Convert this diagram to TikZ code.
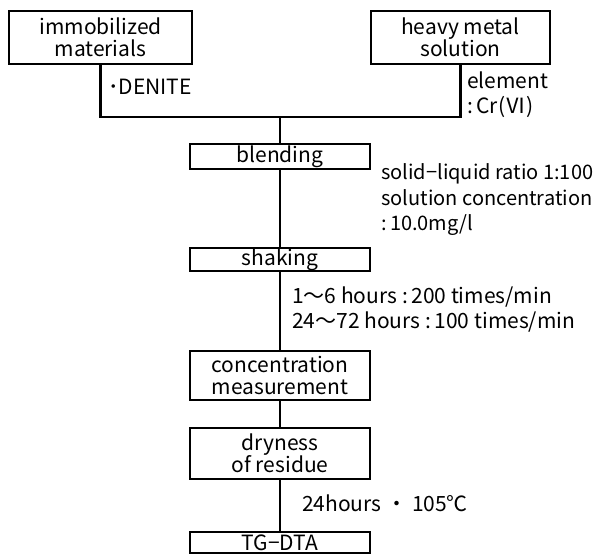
\documentclass[tikz,border=0pt]{standalone}
\usepackage{fontspec}
\setmainfont{Noto Sans CJK JP}

\begin{document}
\begin{tikzpicture}[x=1pt,y=-1pt,
  stepbox/.style={draw,line width=2.8pt,inner sep=0pt,align=center,
    minimum width=180pt,font=\fontsize{21}{22}\selectfont},
  note/.style={anchor=west,inner sep=0pt,align=left,
    font=\fontsize{21}{25}\selectfont},
  link/.style={line width=2.5pt}]

  \useasboundingbox (0,0) rectangle (603,556);

  % starting materials
  \node[stepbox,minimum width=183pt,minimum height=53pt] (immo) at (100.5,37.5) {immobilized\\materials};
  \node[stepbox,minimum width=179pt,minimum height=53pt] (heavy) at (460.5,37.5) {heavy metal\\solution};

  \node[note] (denite) at (108,87) {･DENITE};
  \node[note] (elem) at (467,95) {element\\:\,Cr(Ⅵ)};

  % joining bracket
  \coordinate (jl) at (100.5,117);
  \coordinate (jr) at (460.5,117);
  \coordinate (jc) at (280,117);
  \draw[link] (immo) -- (jl) -- (jr) -- (heavy);

  % steps
  \node[stepbox,minimum height=25pt] (blend) at (280,156.5) {blending};
  \node[stepbox,minimum height=23pt] (shake) at (280,259.5) {shaking};
  \node[stepbox,minimum height=49pt] (conc) at (280,375.5) {concentration\\measurement};
  \node[stepbox,minimum height=51pt] (dry) at (280,453.5) {dryness\\of residue};
  \node[stepbox,minimum height=21pt] (tgdta) at (280,542.5) {TG−DTA};

  \draw[link] (jc) -- (blend);
  \draw[link] (blend) -- (shake);
  \draw[link] (shake) -- (conc);
  \draw[link] (conc) -- (dry);
  \draw[link] (dry) -- (tgdta);

  % conditions
  \node[note,font=\fontsize{20}{25.5}\selectfont] (ratio) at (381,200) {solid−liquid ratio 1:100\\solution concentration\\:\,10.0mg/l};
  \node[note] (speed) at (292,310) {1～6 hours :\,200 times/min\\24～72 hours :\,100 times/min};
  \node[note] (heat) at (302,503) {24hours ・ 105℃};

\end{tikzpicture}
\end{document}
